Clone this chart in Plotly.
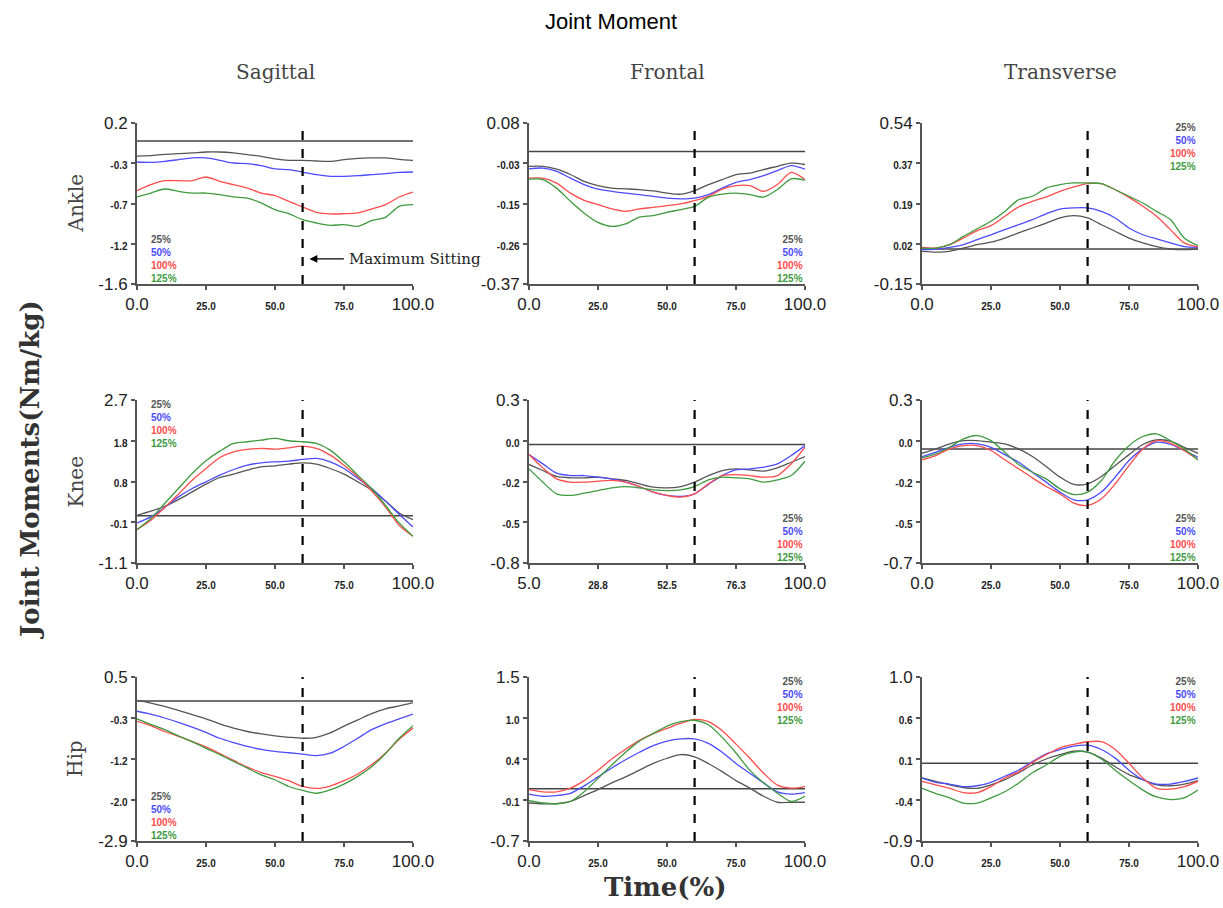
import plotly.graph_objects as go
from plotly.subplots import make_subplots

# ---------------- data ----------------
time_pct = [0, 5, 10, 15, 20, 25, 30, 35, 40, 45, 50, 55, 60, 65, 70, 75, 80, 85, 90, 95, 100]
time_knee_frontal = [5.0, 9.75, 14.5, 19.25, 24.0, 28.75, 33.5, 38.25, 43.0, 47.75, 52.5,
                     57.25, 62.0, 66.75, 71.5, 76.25, 81.0, 85.75, 90.5, 95.25, 100.0]
speeds = ["25%", "50%", "100%", "125%"]
colors = ["#555555", "#4c4cff", "#ff4c4c", "#3f9a3f"]

# Ankle sagittal
ankle_sag_25 = [-0.17, -0.165, -0.15, -0.143, -0.135, -0.124, -0.124, -0.135, -0.154, -0.173, -0.2,
                -0.217, -0.217, -0.225, -0.229, -0.21, -0.195, -0.19, -0.19, -0.206, -0.217]
ankle_sag_50 = [-0.236, -0.24, -0.229, -0.21, -0.19, -0.19, -0.217, -0.247, -0.255, -0.277, -0.314,
                -0.322, -0.348, -0.378, -0.396, -0.396, -0.389, -0.378, -0.367, -0.352, -0.348]
ankle_sag_100 = [-0.557, -0.49, -0.445, -0.445, -0.445, -0.404, -0.452, -0.49, -0.527, -0.583, -0.612,
                 -0.676, -0.739, -0.799, -0.817, -0.814, -0.806, -0.762, -0.713, -0.627, -0.572]
ankle_sag_125 = [-0.627, -0.583, -0.538, -0.564, -0.583, -0.583, -0.601, -0.627, -0.639, -0.694, -0.769,
                 -0.814, -0.881, -0.918, -0.944, -0.937, -0.955, -0.892, -0.855, -0.732, -0.713]

# Ankle frontal
ankle_fro_25 = [-0.041, -0.041, -0.049, -0.064, -0.083, -0.095, -0.102, -0.104, -0.106, -0.11, -0.116,
                -0.119, -0.109, -0.092, -0.078, -0.064, -0.06, -0.05, -0.041, -0.032, -0.036]
ankle_fro_50 = [-0.048, -0.046, -0.055, -0.074, -0.092, -0.105, -0.111, -0.116, -0.12, -0.125, -0.13,
                -0.132, -0.13, -0.12, -0.102, -0.086, -0.078, -0.067, -0.053, -0.039, -0.049]
ankle_fro_100 = [-0.074, -0.074, -0.088, -0.116, -0.136, -0.148, -0.16, -0.167, -0.16, -0.156, -0.151,
                 -0.146, -0.137, -0.125, -0.105, -0.095, -0.095, -0.111, -0.092, -0.058, -0.078]
ankle_fro_125 = [-0.077, -0.078, -0.102, -0.139, -0.172, -0.198, -0.209, -0.202, -0.183, -0.179, -0.17,
                 -0.162, -0.153, -0.128, -0.119, -0.116, -0.12, -0.127, -0.106, -0.076, -0.08]

# Ankle transverse
ankle_tra_25 = [-0.01, -0.013, -0.01, 0.004, 0.019, 0.029, 0.047, 0.069, 0.09, 0.111, 0.133,
                0.143, 0.133, 0.104, 0.076, 0.047, 0.026, 0.01, 0.0, -0.003, 0.0]
ankle_tra_50 = [-0.003, 0.0, 0.007, 0.019, 0.04, 0.061, 0.083, 0.104, 0.126, 0.151, 0.171,
                0.176, 0.176, 0.161, 0.133, 0.09, 0.061, 0.043, 0.026, 0.01, 0.007]
ankle_tra_100 = [0.007, 0.004, 0.019, 0.047, 0.079, 0.1, 0.14, 0.18, 0.204, 0.223, 0.247,
                 0.266, 0.28, 0.28, 0.254, 0.221, 0.183, 0.14, 0.083, 0.026, 0.009]
ankle_tra_125 = [0.004, 0.004, 0.019, 0.054, 0.087, 0.119, 0.161, 0.211, 0.226, 0.261, 0.276,
                 0.283, 0.283, 0.28, 0.254, 0.226, 0.197, 0.161, 0.126, 0.047, 0.014]

# Knee sagittal
knee_sag_25 = [0.01, 0.107, 0.223, 0.379, 0.558, 0.737, 0.893, 0.971, 1.065, 1.142, 1.166,
               1.205, 1.236, 1.205, 1.103, 0.971, 0.792, 0.597, 0.348, 0.067, -0.088]
knee_sag_50 = [-0.166, -0.026, 0.192, 0.441, 0.636, 0.792, 0.948, 1.08, 1.181, 1.236, 1.259,
               1.275, 1.314, 1.337, 1.259, 1.103, 0.87, 0.636, 0.348, 0.036, -0.26]
knee_sag_100 = [-0.322, -0.104, 0.192, 0.504, 0.831, 1.103, 1.36, 1.493, 1.547, 1.571, 1.555,
                1.586, 1.625, 1.571, 1.415, 1.181, 0.909, 0.582, 0.208, -0.221, -0.478]
knee_sag_125 = [-0.322, -0.065, 0.286, 0.636, 0.987, 1.283, 1.508, 1.688, 1.727, 1.765, 1.804,
                1.75, 1.727, 1.688, 1.532, 1.259, 0.948, 0.636, 0.247, -0.166, -0.478]

# Knee frontal
knee_fro_25 = [-0.135, -0.176, -0.216, -0.225, -0.225, -0.221, -0.232, -0.243, -0.266, -0.288, -0.293,
               -0.284, -0.254, -0.21, -0.176, -0.165, -0.172, -0.18, -0.158, -0.12, -0.082]
knee_fro_50 = [-0.068, -0.131, -0.194, -0.21, -0.21, -0.221, -0.232, -0.254, -0.284, -0.322, -0.344,
               -0.351, -0.333, -0.27, -0.21, -0.172, -0.165, -0.153, -0.131, -0.075, -0.008]
knee_fro_100 = [-0.068, -0.158, -0.232, -0.254, -0.254, -0.248, -0.243, -0.254, -0.284, -0.322, -0.344,
                -0.355, -0.333, -0.266, -0.21, -0.203, -0.21, -0.221, -0.21, -0.131, -0.019]
knee_fro_125 = [-0.165, -0.254, -0.333, -0.344, -0.329, -0.311, -0.293, -0.284, -0.293, -0.306, -0.311,
                -0.306, -0.284, -0.239, -0.221, -0.225, -0.232, -0.254, -0.239, -0.21, -0.113]

# Knee transverse
knee_tra_25 = [-0.027, 0.0, 0.031, 0.051, 0.051, 0.041, 0.031, 0.0, -0.047, -0.108, -0.173,
               -0.218, -0.214, -0.169, -0.102, -0.035, 0.027, 0.055, 0.047, 0.01, -0.027]
knee_tra_50 = [-0.047, -0.02, 0.01, 0.031, 0.031, 0.01, -0.035, -0.082, -0.143, -0.204, -0.265,
               -0.312, -0.312, -0.265, -0.173, -0.071, 0.0, 0.041, 0.027, -0.01, -0.051]
knee_tra_100 = [-0.067, -0.041, 0.0, 0.02, 0.02, -0.01, -0.067, -0.122, -0.178, -0.231, -0.276,
                -0.333, -0.347, -0.306, -0.214, -0.102, 0.0, 0.051, 0.035, -0.01, -0.067]
knee_tra_125 = [-0.055, -0.031, 0.01, 0.061, 0.082, 0.051, -0.02, -0.096, -0.143, -0.184, -0.245,
                -0.28, -0.265, -0.194, -0.071, 0.02, 0.076, 0.092, 0.051, 0.0, -0.067]

# Hip sagittal
hip_sag_25 = [0.015, -0.04, -0.11, -0.19, -0.28, -0.37, -0.47, -0.56, -0.63, -0.68, -0.72,
              -0.75, -0.77, -0.75, -0.66, -0.52, -0.39, -0.26, -0.16, -0.1, -0.03]
hip_sag_50 = [-0.21, -0.27, -0.35, -0.44, -0.54, -0.65, -0.77, -0.86, -0.94, -1.0, -1.04,
              -1.07, -1.1, -1.13, -1.08, -0.94, -0.77, -0.59, -0.47, -0.37, -0.27]
hip_sag_100 = [-0.42, -0.51, -0.63, -0.73, -0.84, -0.95, -1.09, -1.23, -1.37, -1.48, -1.56,
               -1.65, -1.77, -1.81, -1.76, -1.65, -1.51, -1.32, -1.08, -0.79, -0.56]
hip_sag_125 = [-0.37, -0.48, -0.59, -0.72, -0.84, -0.98, -1.11, -1.25, -1.39, -1.53, -1.63,
               -1.77, -1.85, -1.91, -1.84, -1.72, -1.56, -1.36, -1.09, -0.77, -0.51]

# Hip frontal
hip_fro_25 = [-0.19, -0.2, -0.2, -0.17, -0.09, -0.01, 0.08, 0.16, 0.25, 0.34, 0.41,
              0.46, 0.43, 0.34, 0.23, 0.11, 0.01, -0.1, -0.18, -0.18, -0.18]
hip_fro_50 = [-0.07, -0.1, -0.09, -0.06, 0.04, 0.16, 0.28, 0.39, 0.49, 0.58, 0.64,
              0.67, 0.67, 0.61, 0.49, 0.34, 0.21, 0.08, -0.04, -0.07, -0.05]
hip_fro_100 = [-0.01, -0.04, -0.04, 0.01, 0.11, 0.25, 0.4, 0.53, 0.65, 0.74, 0.81,
               0.88, 0.93, 0.9, 0.78, 0.6, 0.41, 0.21, 0.05, 0.01, 0.03]
hip_fro_125 = [-0.16, -0.19, -0.2, -0.17, -0.04, 0.14, 0.32, 0.49, 0.64, 0.74, 0.84,
               0.9, 0.92, 0.86, 0.69, 0.48, 0.25, 0.08, -0.06, -0.17, -0.1]

# Hip transverse
hip_tra_25 = [-0.17, -0.21, -0.25, -0.28, -0.29, -0.25, -0.19, -0.11, -0.02, 0.05, 0.1,
              0.14, 0.13, 0.06, -0.04, -0.13, -0.19, -0.25, -0.26, -0.24, -0.2]
hip_tra_50 = [-0.17, -0.22, -0.24, -0.27, -0.26, -0.22, -0.15, -0.08, 0.02, 0.11, 0.16,
              0.2, 0.21, 0.16, 0.06, -0.08, -0.19, -0.24, -0.24, -0.21, -0.17]
hip_tra_100 = [-0.21, -0.25, -0.29, -0.34, -0.34, -0.27, -0.17, -0.1, 0.01, 0.1, 0.18,
               0.22, 0.25, 0.25, 0.16, 0.0, -0.17, -0.29, -0.3, -0.27, -0.21]
hip_tra_125 = [-0.29, -0.35, -0.4, -0.46, -0.46, -0.4, -0.33, -0.23, -0.11, -0.02, 0.08,
               0.13, 0.13, 0.05, -0.08, -0.2, -0.31, -0.39, -0.42, -0.4, -0.31]

# axis ranges and tick labels (5 evenly spaced ticks)
y_ranges = [[-1.6, 0.2], [-0.37, 0.08], [-0.15, 0.54],
            [-1.1, 2.7], [-0.8, 0.3], [-0.7, 0.3],
            [-2.9, 0.5], [-0.7, 1.5], [-0.9, 1.0]]
y_ticklabels = [["-1.6", "-1.2", "-0.7", "-0.3", "0.2"],
                ["-0.37", "-0.26", "-0.15", "-0.03", "0.08"],
                ["-0.15", "0.02", "0.19", "0.37", "0.54"],
                ["-1.1", "-0.1", "0.8", "1.8", "2.7"],
                ["-0.8", "-0.5", "-0.2", "0.0", "0.3"],
                ["-0.7", "-0.5", "-0.2", "0.0", "0.3"],
                ["-2.9", "-2.0", "-1.2", "-0.3", "0.5"],
                ["-0.7", "-0.1", "0.4", "1.0", "1.5"],
                ["-0.9", "-0.4", "0.1", "0.6", "1.0"]]
x_ticklabels_std = ["0.0", "25.0", "50.0", "75.0", "100.0"]
x_ticklabels_knee_frontal = ["5.0", "28.8", "52.5", "76.3", "100.0"]
max_sitting_pct = 60.0

panel_data = [
    [ankle_sag_25, ankle_sag_50, ankle_sag_100, ankle_sag_125],
    [ankle_fro_25, ankle_fro_50, ankle_fro_100, ankle_fro_125],
    [ankle_tra_25, ankle_tra_50, ankle_tra_100, ankle_tra_125],
    [knee_sag_25, knee_sag_50, knee_sag_100, knee_sag_125],
    [knee_fro_25, knee_fro_50, knee_fro_100, knee_fro_125],
    [knee_tra_25, knee_tra_50, knee_tra_100, knee_tra_125],
    [hip_sag_25, hip_sag_50, hip_sag_100, hip_sag_125],
    [hip_fro_25, hip_fro_50, hip_fro_100, hip_fro_125],
    [hip_tra_25, hip_tra_50, hip_tra_100, hip_tra_125],
]
legend_pos = ["bl", "br", "tr", "tl", "br", "br", "bl", "tr", "tr"]

col_titles = ["Sagittal", "Frontal", "Transverse"]
row_titles = ["Ankle", "Knee", "Hip"]

# ---------------- figure ----------------
W, H = 1223, 908
col_px = [(137, 413), (529, 805), (922, 1198)]
row_px = [(123, 284), (400, 563), (677, 841)]


def px(xpage):
    return xpage / W


def py(ypage):
    return 1 - ypage / H


fig = make_subplots(rows=3, cols=3)

BIG = 17
SMALL = 10
SERIF = "DejaVu Serif"
SANS = "Liberation Sans"


def lab(txt, big):
    if big:
        return txt
    return "<span style='font-size:%dpx'><b>%s</b></span>" % (SMALL, txt)


annotations = []
shapes = []

for i in range(9):
    r, c = i // 3, i % 3
    k = i + 1
    xs = time_knee_frontal if i == 4 else time_pct
    xr = [5, 100] if i == 4 else [0, 100]
    xt = x_ticklabels_knee_frontal if i == 4 else x_ticklabels_std
    for s in range(4):
        fig.add_trace(go.Scatter(x=xs, y=panel_data[i][s], mode="lines",
                                 line=dict(color=colors[s], width=1.3, shape="spline", smoothing=0.8),
                                 showlegend=False, hoverinfo="skip"),
                      row=r + 1, col=c + 1)
    y0, y1 = y_ranges[i]
    ytv = [y0 + (y1 - y0) * j / 4 for j in range(5)]
    xtv = [xr[0] + (xr[1] - xr[0]) * j / 4 for j in range(5)]
    xd = [px(col_px[c][0]), px(col_px[c][1])]
    yd = [py(row_px[r][1]), py(row_px[r][0])]
    xa = "xaxis" if k == 1 else "xaxis%d" % k
    ya = "yaxis" if k == 1 else "yaxis%d" % k
    fig.layout[xa].update(domain=xd, range=xr, tickvals=xtv,
                          ticktext=[lab(t, j in (0, 4)) for j, t in enumerate(xt)],
                          showline=True, linecolor="#555555", linewidth=2, ticks="outside",
                          ticklen=4, tickwidth=1.5, tickcolor="#555555", showgrid=False,
                          zeroline=False, tickfont=dict(family=SANS, size=BIG, color="#222222"),
                          tickangle=0, automargin=False, ticklabeloverflow="allow")
    fig.layout[ya].update(domain=yd, range=[y0, y1], tickvals=ytv,
                          ticktext=[lab(t, j in (0, 4)) for j, t in enumerate(y_ticklabels[i])],
                          showline=True, linecolor="#555555", linewidth=2, ticks="outside",
                          ticklen=4, tickwidth=1.5, tickcolor="#555555", showgrid=False,
                          zeroline=False, tickfont=dict(family=SANS, size=BIG, color="#222222"),
                          automargin=False, ticklabeloverflow="allow")
    xref = "x" if k == 1 else "x%d" % k
    yref = "y" if k == 1 else "y%d" % k
    # zero reference line
    shapes.append(dict(type="line", xref=xref + " domain", yref=yref, x0=0, x1=1, y0=0, y1=0,
                       line=dict(color="#444444", width=1.5), layer="below"))
    # maximum sitting dashed line
    xm = 5 + (100 - 5) * max_sitting_pct / 100 if i == 4 else max_sitting_pct
    shapes.append(dict(type="line", xref=xref, yref=yref + " domain", x0=xm, x1=xm, y0=0, y1=1,
                       line=dict(color="black", width=2.2, dash="dash")))
    # per-panel speed legend
    pos = legend_pos[i]
    txt = "<br>".join("<span style='color:%s'><b>%s</b></span>" % (colors[s], speeds[s])
                      for s in range(4))
    if pos[1] == "l":
        ax_, xanc = 0.045, "left"
    else:
        ax_, xanc = 1.0, "right"
    if pos[0] == "t":
        ay_, yanc = 1.02, "top"
    else:
        ay_, yanc = -0.01, "bottom"
    annotations.append(dict(xref=xref + " domain", yref=yref + " domain", x=ax_, y=ay_,
                            xanchor=xanc, yanchor=yanc, align=xanc, showarrow=False, text=txt,
                            font=dict(family=SANS, size=10)))

# column titles
for c in range(3):
    annotations.append(dict(xref="paper", yref="paper", x=px((col_px[c][0] + col_px[c][1]) / 2),
                            y=py(72), text=col_titles[c], showarrow=False,
                            font=dict(family=SERIF, size=20, color="#444444"),
                            xanchor="center", yanchor="middle"))
# row titles
for r in range(3):
    annotations.append(dict(xref="paper", yref="paper", x=px(75),
                            y=py((row_px[r][0] + row_px[r][1]) / 2), text=row_titles[r],
                            showarrow=False, textangle=-90,
                            font=dict(family=SERIF, size=20, color="#444444"),
                            xanchor="center", yanchor="middle"))

# main titles
annotations.append(dict(xref="paper", yref="paper", x=px(611), y=py(21), text="Joint Moment",
                        showarrow=False, font=dict(family=SANS, size=22, color="black"),
                        xanchor="center", yanchor="middle"))
annotations.append(dict(xref="paper", yref="paper", x=px(30), y=py(470),
                        text="<b>Joint Moments(Nm/kg)</b>", showarrow=False, textangle=-90,
                        font=dict(family=SERIF, size=26, color="#333333"),
                        xanchor="center", yanchor="middle"))
annotations.append(dict(xref="paper", yref="paper", x=px(665), y=py(887),
                        text="<b>Time(%)</b>", showarrow=False,
                        font=dict(family=SERIF, size=26, color="#333333"),
                        xanchor="center", yanchor="middle"))

# Maximum Sitting annotation
annotations.append(dict(xref="x", yref="y", x=max_sitting_pct + 2.5, y=-1.32,
                        ax=max_sitting_pct + 15.5, ay=-1.32, axref="x", ayref="y",
                        showarrow=True, arrowhead=2, arrowsize=1.2, arrowwidth=1.3,
                        arrowcolor="black", text=""))
annotations.append(dict(xref="x", yref="y", x=max_sitting_pct + 16.0, y=-1.32,
                        text="Maximum Sitting", showarrow=False, xanchor="left",
                        yanchor="middle", font=dict(family=SERIF, size=15, color="#222222")))

fig.update_layout(width=W, height=H, margin=dict(l=0, r=0, t=0, b=0, pad=0, autoexpand=False),
                  plot_bgcolor="white", paper_bgcolor="white",
                  annotations=annotations, shapes=shapes, showlegend=False)

# remove the default page margin so the figure fills the window exactly
fig.write_html("out.html", config={"displayModeBar": False},
               post_script="document.body.style.margin='0';document.body.style.overflow='hidden';")
